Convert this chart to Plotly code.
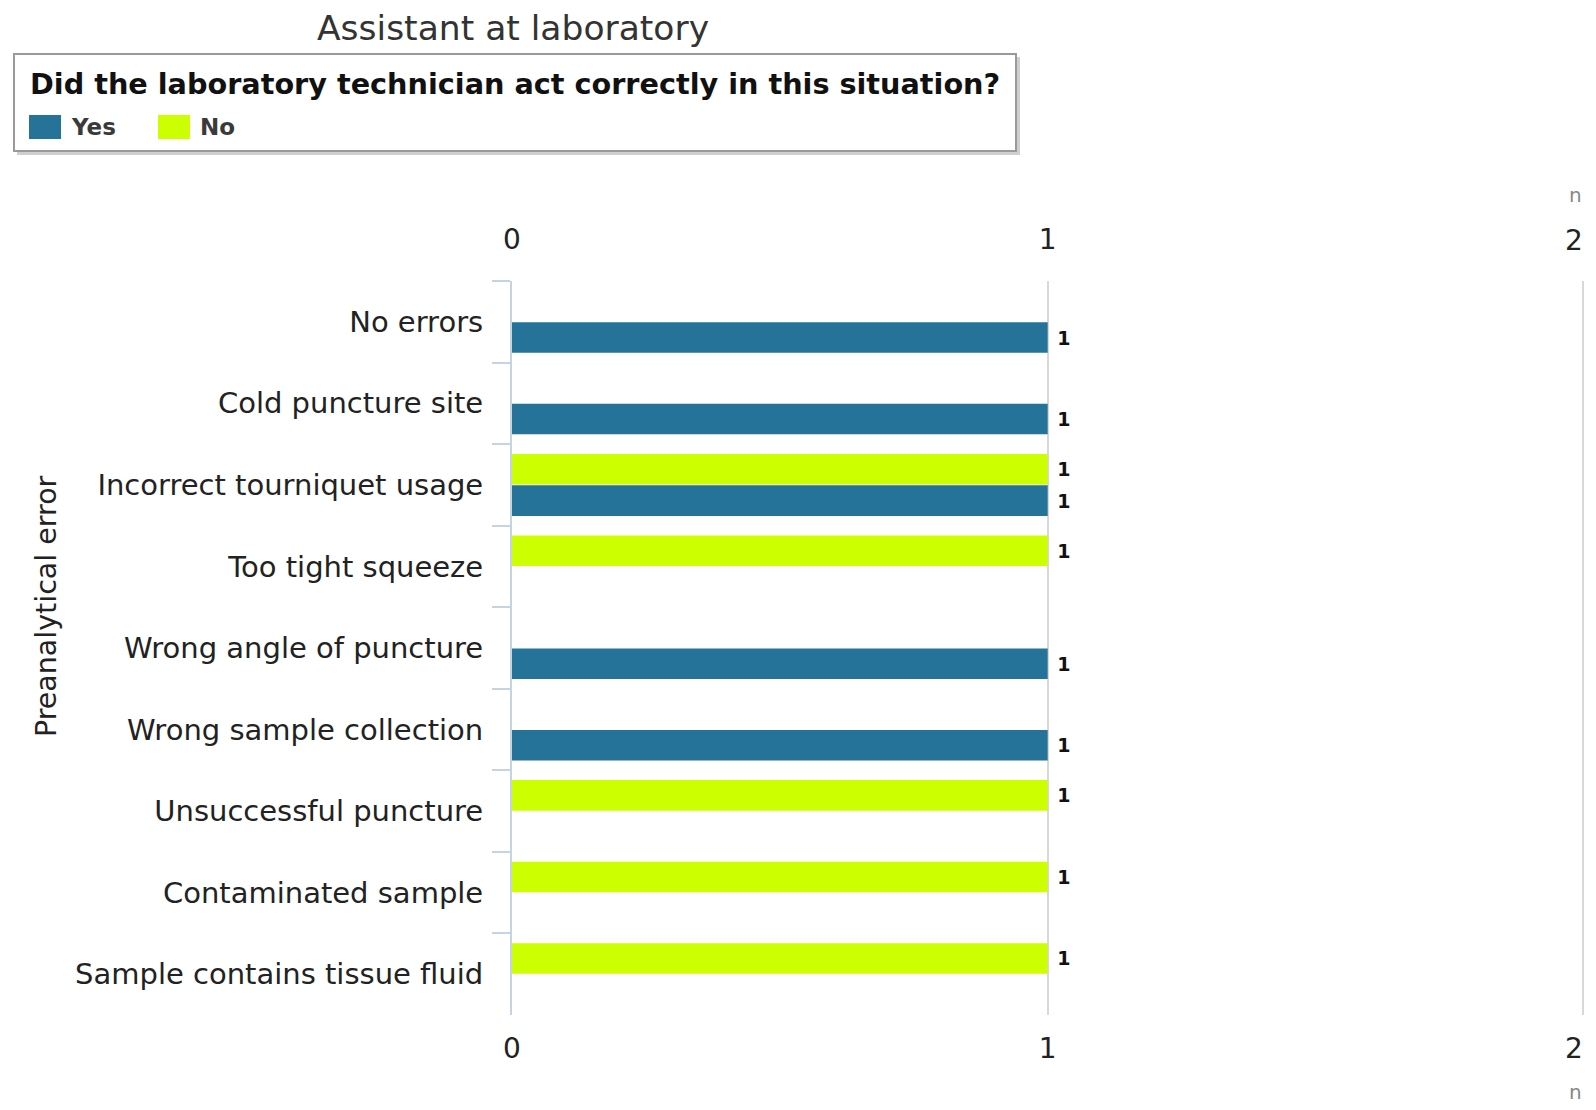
import plotly.graph_objects as go

# ---- data ----
categories = [
    "No errors",
    "Cold puncture site",
    "Incorrect tourniquet usage",
    "Too tight squeeze",
    "Wrong angle of puncture",
    "Wrong sample collection",
    "Unsuccessful puncture",
    "Contaminated sample",
    "Sample contains tissue fluid",
]
yes_values = [1, 1, 1, 0, 1, 1, 0, 0, 0]
no_values = [0, 0, 1, 1, 0, 0, 1, 1, 1]
series_names = ["Yes", "No"]
series_colors = ["#267399", "#CCFF00"]
x_ticks = [0, 1, 2]
x_tick_labels = ["0", "1", "2"]

chart_title = "Assistant at laboratory"
legend_title = "Did the laboratory technician act correctly in this situation?"
y_title = "Preanalytical error"

# ---- geometry (pixels) ----
W, H = 1596, 1110
ML, MR, MT, MB = 512, 11, 281, 95
PW, PH = W - ML - MR, H - MT - MB


def px(x):
    return (x - ML) / PW


def py(y):
    return (H - MB - y) / PH


FONT = "DejaVu Sans"
NB = "\u00a0"
XRANGE = [0, 2.003]
TICKFONT = dict(family=FONT, size=28, color="#222222")

fig = go.Figure()


def labels(vals):
    return [NB + str(v) if v else "" for v in vals]


# No first -> top slot in reversed axis
for name, vals, col in [(series_names[1], no_values, series_colors[1]),
                        (series_names[0], yes_values, series_colors[0])]:
    fig.add_trace(go.Bar(
        y=categories, x=vals, orientation="h", name=name,
        marker=dict(color=col, line=dict(width=0)),
        text=labels(vals), textposition="outside",
        textfont=dict(family=FONT, size=19, color="#111111", weight="bold"),
        cliponaxis=False, showlegend=False,
    ))


def x_axis(side, ticklen, vals, texts, grid=False, **kw):
    return dict(range=XRANGE, tickvals=vals, ticktext=texts,
                showgrid=grid, gridcolor="#d8d8d8", gridwidth=2,
                zeroline=False, showline=False, ticks="outside",
                ticklen=ticklen, tickcolor="rgba(0,0,0,0)",
                automargin=False, side=side, tickfont=TICKFONT, **kw)


# inner labels centred on their ticks, last label kept inside the edge
inner_vals, inner_txt = x_ticks[:-1], x_tick_labels[:-1]
last_val, last_txt = x_ticks[-1:], x_tick_labels[-1:]

fig.update_layout(
    width=W, height=H,
    margin=dict(l=ML, r=MR, t=MT, b=MB, pad=0, autoexpand=False),
    paper_bgcolor="white", plot_bgcolor="white",
    barmode="group", bargap=0.228, bargroupgap=0.03,
    font=dict(family=FONT, color="#222222"),
    xaxis=x_axis("bottom", 8, x_ticks, inner_txt + [""], grid=True),
    xaxis2=x_axis("top", 20, inner_vals, inner_txt, overlaying="x",
                  anchor="y"),
    xaxis3=x_axis("bottom", 8, last_val, last_txt, overlaying="x",
                  anchor="y", ticklabelposition="outside left",
                  ticklabelstandoff=8),
    xaxis4=x_axis("top", 20, last_val, last_txt, overlaying="x",
                  anchor="y", ticklabelposition="outside left",
                  ticklabelstandoff=19),
    yaxis=dict(categoryorder="array", categoryarray=categories,
               autorange="reversed", showline=True, linecolor="#c4d4e4",
               linewidth=2, ticks="outside", tickson="boundaries",
               ticklen=18, tickwidth=2, tickcolor="#c4d4e4",
               showgrid=False, zeroline=False, automargin=False,
               ticklabelstandoff=21,
               tickfont=dict(family=FONT, size=29, color="#222222")),
)

# invisible traces to activate the extra axes
for ax in ("x2", "x3", "x4"):
    fig.add_trace(go.Scatter(x=[0, 2], y=[categories[0], categories[0]],
                             xaxis=ax, mode="markers",
                             marker=dict(opacity=0), showlegend=False,
                             hoverinfo="skip"))

ann = []
ann.append(dict(text=chart_title, x=px(513), y=py(28), xref="paper",
                yref="paper", xanchor="center", yanchor="middle",
                showarrow=False,
                font=dict(family=FONT, size=34.5, color="#333333")))
ann.append(dict(text=y_title, x=px(46), y=py(606), xref="paper",
                yref="paper", xanchor="center", yanchor="middle",
                textangle=-90, showarrow=False,
                font=dict(family=FONT, size=28.5, color="#222222")))
for yy in (195, 1092):
    ann.append(dict(text="n", x=px(1575), y=py(yy), xref="paper",
                    yref="paper", xanchor="center", yanchor="middle",
                    showarrow=False,
                    font=dict(family=FONT, size=20, color="#888888")))

# custom legend
shapes = []
shapes.append(dict(type="rect", xref="paper", yref="paper",
                   x0=px(17), x1=px(1020), y0=py(57), y1=py(155),
                   fillcolor="#cfcfcf", line=dict(width=0), layer="above"))
shapes.append(dict(type="rect", xref="paper", yref="paper",
                   x0=px(14), x1=px(1016), y0=py(54), y1=py(151),
                   fillcolor="white", line=dict(color="#9a9a9a", width=2),
                   layer="above"))
ann.append(dict(text=legend_title, x=px(28), y=py(84), xref="paper",
                yref="paper", xanchor="left", yanchor="middle",
                showarrow=False,
                font=dict(family=FONT, size=28.7, color="#111111",
                          weight="bold")))
for name, col, sx, tx in [(series_names[0], series_colors[0], 29, 69),
                          (series_names[1], series_colors[1], 158, 198)]:
    shapes.append(dict(type="rect", xref="paper", yref="paper",
                       x0=px(sx), x1=px(sx + 32), y0=py(115), y1=py(139),
                       fillcolor=col, line=dict(width=0), layer="above"))
    ann.append(dict(text=name, x=px(tx), y=py(127), xref="paper",
                    yref="paper", xanchor="left", yanchor="middle",
                    showarrow=False,
                    font=dict(family=FONT, size=23, color="#3a3a3a",
                              weight="bold")))

fig.update_layout(annotations=ann, shapes=shapes)

fig.write_html("out.html",
               config={"displayModeBar": False},
               post_script="document.body.style.margin='0';"
                           "document.body.style.overflow='hidden';")
